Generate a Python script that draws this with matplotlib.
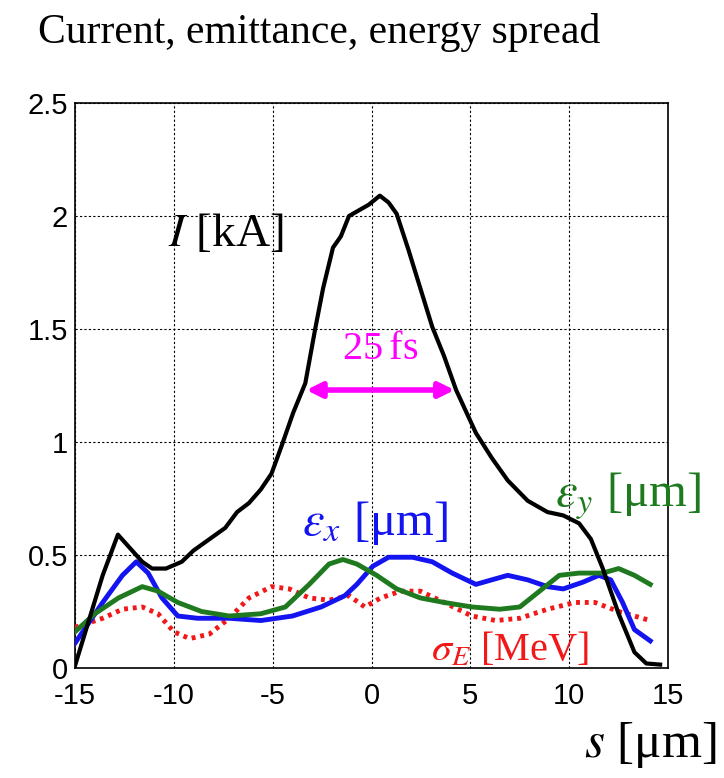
import numpy as np
import matplotlib
matplotlib.use("Agg")
import matplotlib.pyplot as plt
from matplotlib.ticker import FuncFormatter

# values: s in um
s_I = [-15, -13.6, -12.83, -11.6, -11.1, -10.4, -9.6, -9.0, -8.2, -7.4, -6.8, -6.2,
       -5.6, -5.06, -4.56, -3.96, -3.35, -2.85, -2.45, -1.95, -1.55, -1.14, -0.74,
       -0.14, 0.42, 0.86, 1.27, 1.87, 2.47, 3.07, 3.67, 4.28, 5.28, 6.08, 6.89, 7.9,
       8.9, 9.7, 10.5, 11.1, 11.7, 12.5, 13.3, 13.9, 14.6]
I_kA = [0.01, 0.41, 0.59, 0.47, 0.44, 0.44, 0.47, 0.52, 0.57, 0.62, 0.69, 0.73,
        0.79, 0.86, 0.98, 1.13, 1.26, 1.50, 1.68, 1.86, 1.91, 2.00, 2.02,
        2.05, 2.09, 2.06, 2.01, 1.85, 1.68, 1.51, 1.38, 1.23, 1.04, 0.93, 0.83, 0.74,
        0.69, 0.675, 0.64, 0.57, 0.44, 0.24, 0.07, 0.02, 0.015]

s_ex = [-15, -13.6, -12.6, -11.9, -11.3, -10.6, -9.8, -8.8, -7.2, -5.6, -4.0, -2.55,
        -1.35, -0.74, 0.06, 0.86, 2.07, 3.07, 4.08, 5.28, 6.08, 6.89, 7.9, 8.9, 9.7,
        10.7, 11.5, 12.1, 12.7, 13.3, 14.1]
eps_x = [0.11, 0.29, 0.41, 0.47, 0.42, 0.31, 0.23, 0.22, 0.22, 0.21, 0.23, 0.27,
         0.32, 0.37, 0.45, 0.49, 0.49, 0.47, 0.42, 0.37, 0.39, 0.41, 0.39, 0.36, 0.35,
         0.38, 0.41, 0.39, 0.29, 0.17, 0.12]

s_ey = [-15, -14.0, -12.8, -11.6, -10.8, -9.8, -8.6, -7.2, -5.6, -4.36, -3.15, -2.15,
        -1.45, -0.74, 0.26, 1.27, 2.47, 3.67, 5.08, 6.49, 7.5, 8.5, 9.5, 10.5, 11.7,
        12.5, 13.3, 14.1]
eps_y = [0.16, 0.24, 0.31, 0.36, 0.34, 0.29, 0.25, 0.23, 0.24, 0.27, 0.37, 0.46,
         0.48, 0.46, 0.41, 0.35, 0.31, 0.29, 0.27, 0.26, 0.27, 0.34, 0.41, 0.42, 0.42,
         0.44, 0.41, 0.37]

s_sig = [-15, -13.6, -12.6, -11.6, -10.8, -10.0, -9.2, -8.2, -7.2, -6.2, -5.06, -4.16,
         -3.15, -2.15, -1.14, -0.34, 0.46, 1.47, 2.47, 3.67, 5.08, 6.29, 7.5, 8.9,
         10.3, 11.3, 12.5, 14.1]
sigma_E = [0.18, 0.22, 0.26, 0.27, 0.24, 0.16, 0.13, 0.15, 0.22, 0.31, 0.36, 0.35,
           0.31, 0.30, 0.32, 0.27, 0.31, 0.34, 0.34, 0.29, 0.23, 0.21, 0.22, 0.26,
           0.29, 0.29, 0.25, 0.21]

fwhm = [-3.3, 4.2]  # 25 fs arrow ends

serif = "Liberation Serif"
sans = "Liberation Sans"
plt.rcParams["axes.unicode_minus"] = False

fig = plt.figure(figsize=(7.24, 7.78), dpi=100)
ax = fig.add_axes([0.1036, 0.1414, 0.8191, 0.7262])

ax.plot(s_I, I_kA, color="black", lw=3, zorder=5, solid_joinstyle="round")
ax.plot(s_ex, eps_x, color="#1414f0", lw=3.5, zorder=4, solid_joinstyle="round")
ax.plot(s_ey, eps_y, color="#1f7a1f", lw=3.5, zorder=4, solid_joinstyle="round")
ax.plot(s_sig, sigma_E, color="#f01818", lw=3.5, ls=(0, (0.8, 1.0)), zorder=3)

ax.annotate("", xy=(fwhm[0], 1.23), xytext=(fwhm[1], 1.23),
            arrowprops=dict(arrowstyle="<|-|>,head_length=0.9,head_width=0.45",
                            color="#ff00ff", lw=4, shrinkA=0, shrinkB=0), zorder=6)
ax.text(0.45, 1.41, "25$\\,$fs", color="#ff00ff", fontsize=29, family=serif,
        ha="center", va="center")
ax.text(-10.3, 1.92, "$I$ [kA]", color="black", fontsize=34, family=serif,
        ha="left", va="center", math_fontfamily="stix")
ax.text(-3.5, 0.64, "$\\varepsilon_x$ [μm]", color="#1414f0", fontsize=35,
        family=serif, ha="left", va="center", math_fontfamily="stix")
ax.text(9.3, 0.76, "$\\varepsilon_y$ [μm]", color="#1f7a1f", fontsize=35,
        family=serif, ha="left", va="center", math_fontfamily="stix", clip_on=False)
ax.text(3.0, 0.08, "$\\sigma_E$ [MeV]", color="#f01818", fontsize=29,
        family=serif, ha="left", va="center", math_fontfamily="stix")

ax.set_xlim(-15, 15)
ax.set_ylim(0, 2.5)
ax.set_xticks(np.arange(-15, 16, 5))
ax.set_yticks(np.arange(0, 2.51, 0.5))
ax.yaxis.set_major_formatter(FuncFormatter(lambda v, p: "%g" % v))
ax.grid(True, color="black", ls=(0, (2, 2)), lw=0.8)
ax.tick_params(length=0, labelsize=21)
ax.tick_params(axis="x", pad=10)
ax.tick_params(axis="y", pad=5)
for lab in ax.get_xticklabels() + ax.get_yticklabels():
    lab.set_family(sans)
for sp in ax.spines.values():
    sp.set_linewidth(1.2)

fig.text(0.053, 0.958, "Current, emittance, energy spread", fontsize=30,
         family=serif, ha="left", va="center")
fig.text(0.99, 0.042, "$s$ [μm]", fontsize=37, family=serif, ha="right",
         va="center", math_fontfamily="stix")

fig.savefig("out.png", dpi=100)
